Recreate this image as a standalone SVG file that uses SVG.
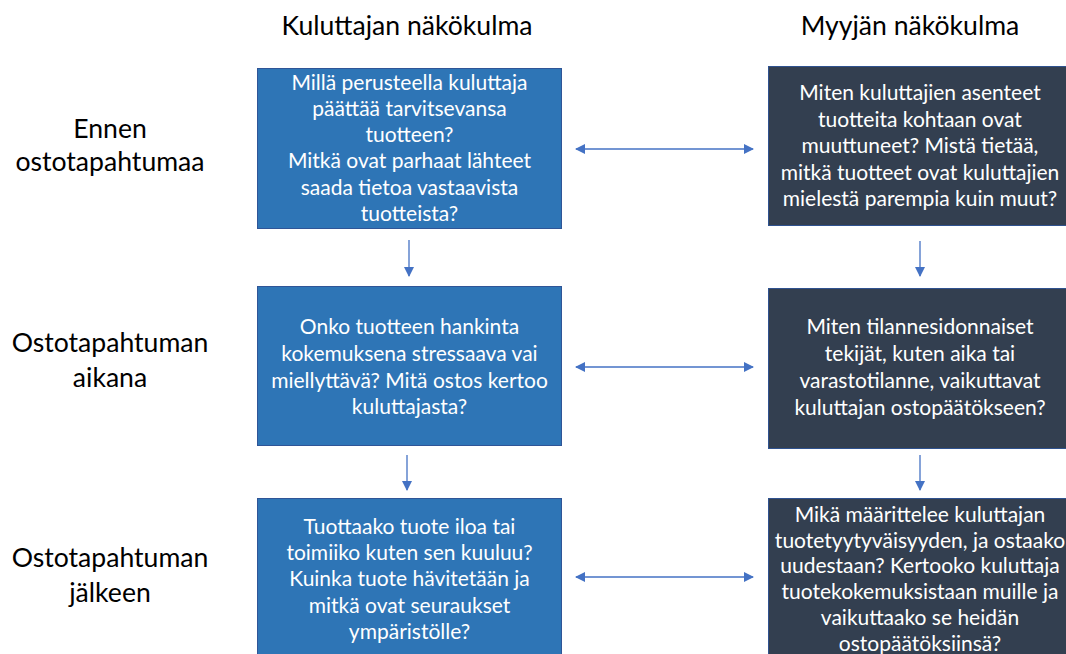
<svg xmlns="http://www.w3.org/2000/svg" width="1066" height="654" viewBox="0 0 1066 654">
<defs>
<marker id="ah" viewBox="0 0 10 10" refX="9" refY="5" markerWidth="10" markerHeight="10" markerUnits="userSpaceOnUse" orient="auto-start-reverse">
<path d="M0,0 L10,5 L0,10 z" fill="#4472C4"/>
</marker>
<style>
.hd{font-family:Lato,"Open Sans","Liberation Sans",sans-serif;font-size:26.6px;fill:#000;text-anchor:middle}
.bx{font-family:Lato,"Open Sans","Liberation Sans",sans-serif;font-size:21px;fill:#fff;text-anchor:middle}
.blue{fill:#2E75B6;stroke:#2F5597;stroke-width:1}
.dark{fill:#333F50;stroke:#2F528F;stroke-width:1}
.con{stroke:#4472C4;stroke-width:1.3;fill:none}
</style>
</defs>
<rect width="1066" height="654" fill="#fff"/>
<g id="headers">
<text class="hd" x="407" y="35">Kuluttajan näkökulma</text>
<text class="hd" x="910" y="35">Myyjän näkökulma</text>
</g>
<g id="rowlabels">
<text class="hd" x="110" y="138">Ennen</text>
<text class="hd" x="110" y="171">ostotapahtumaa</text>
<text class="hd" x="110" y="352">Ostotapahtuman</text>
<text class="hd" x="110" y="387">aikana</text>
<text class="hd" x="110" y="567">Ostotapahtuman</text>
<text class="hd" x="110" y="602">jälkeen</text>
</g>
<g id="c1">
<rect class="blue" x="257.5" y="68.5" width="304" height="160"/>
<text class="bx" x="409.5" y="90">Millä perusteella kuluttaja</text>
<text class="bx" x="409.5" y="116">päättää tarvitsevansa</text>
<text class="bx" x="409.5" y="142">tuotteen?</text>
<text class="bx" x="409.5" y="168">Mitkä ovat parhaat lähteet</text>
<text class="bx" x="409.5" y="195">saada tietoa vastaavista</text>
<text class="bx" x="409.5" y="221">tuotteista?</text>
</g>
<g id="s1">
<rect class="dark" x="768.5" y="66.5" width="304" height="159"/>
<text class="bx" x="920" y="100">Miten kuluttajien asenteet</text>
<text class="bx" x="920" y="127">tuotteita kohtaan ovat</text>
<text class="bx" x="920" y="153">muuttuneet? Mistä tietää,</text>
<text class="bx" x="920" y="180">mitkä tuotteet ovat kuluttajien</text>
<text class="bx" x="920" y="206">mielestä parempia kuin muut?</text>
</g>
<g id="c2">
<rect class="blue" x="257.5" y="286.5" width="304" height="159"/>
<text class="bx" x="409.5" y="334">Onko tuotteen hankinta</text>
<text class="bx" x="409.5" y="361">kokemuksena stressaava vai</text>
<text class="bx" x="409.5" y="388">miellyttävä? Mitä ostos kertoo</text>
<text class="bx" x="409.5" y="414">kuluttajasta?</text>
</g>
<g id="s2">
<rect class="dark" x="768.5" y="288.5" width="304" height="160"/>
<text class="bx" x="920" y="334">Miten tilannesidonnaiset</text>
<text class="bx" x="920" y="361">tekijät, kuten aika tai</text>
<text class="bx" x="920" y="388">varastotilanne, vaikuttavat</text>
<text class="bx" x="920" y="415">kuluttajan ostopäätökseen?</text>
</g>
<g id="c3">
<rect class="blue" x="257.5" y="498.5" width="304" height="160"/>
<text class="bx" x="409.5" y="534">Tuottaako tuote iloa tai</text>
<text class="bx" x="409.5" y="560">toimiiko kuten sen kuuluu?</text>
<text class="bx" x="409.5" y="586">Kuinka tuote hävitetään ja</text>
<text class="bx" x="409.5" y="613">mitkä ovat seuraukset</text>
<text class="bx" x="409.5" y="639">ympäristölle?</text>
</g>
<g id="s3">
<rect class="dark" x="768.5" y="498.5" width="304" height="160"/>
<text class="bx" x="920" y="522">Mikä määrittelee kuluttajan</text>
<text class="bx" x="920" y="548">tuotetyytyväisyyden, ja ostaako</text>
<text class="bx" x="920" y="573">uudestaan? Kertooko kuluttaja</text>
<text class="bx" x="920" y="599">tuotekokemuksistaan muille ja</text>
<text class="bx" x="920" y="625">vaikuttaako se heidän</text>
<text class="bx" x="920" y="651">ostopäätöksiinsä?</text>
</g>
<g id="connectors">
<line class="con" x1="576" y1="149" x2="753" y2="149" marker-start="url(#ah)" marker-end="url(#ah)"/>
<line class="con" x1="576" y1="367" x2="753" y2="367" marker-start="url(#ah)" marker-end="url(#ah)"/>
<line class="con" x1="576" y1="577" x2="753" y2="577" marker-start="url(#ah)" marker-end="url(#ah)"/>
<line class="con" x1="409" y1="240" x2="409" y2="276" marker-end="url(#ah)"/>
<line class="con" x1="407" y1="455" x2="407" y2="490" marker-end="url(#ah)"/>
<line class="con" x1="920" y1="241" x2="920" y2="276" marker-end="url(#ah)"/>
<line class="con" x1="920" y1="455" x2="920" y2="490" marker-end="url(#ah)"/>
</g>
</svg>
